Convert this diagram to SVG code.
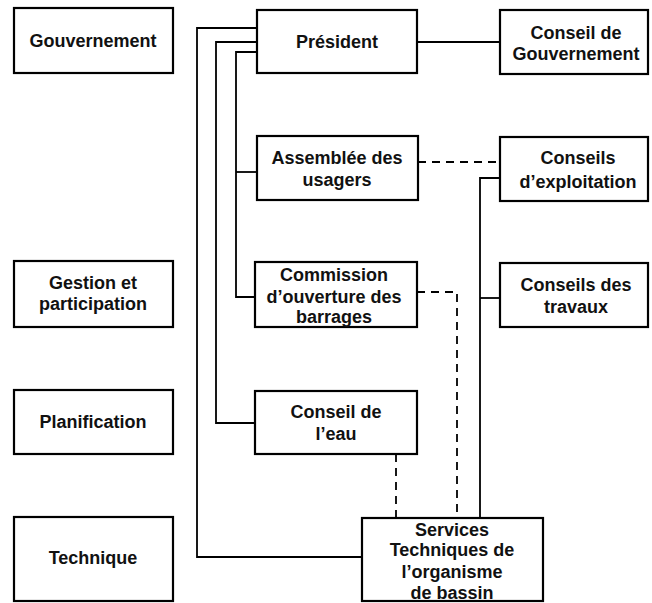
<svg xmlns="http://www.w3.org/2000/svg" width="652" height="603" viewBox="0 0 652 603">
<style>
rect.box{fill:#fff;stroke:#000;stroke-width:2.2}
.t{font-family:"Liberation Sans",Arial,sans-serif;font-weight:bold;font-size:18px;fill:#111;text-anchor:middle}
.c{fill:none;stroke:#000;stroke-width:1.8}
.d{fill:none;stroke:#000;stroke-width:1.8;stroke-dasharray:8 6}
</style>
<rect width="652" height="603" fill="#fff"/>
<g id="connectors">
<path class="c" d="M417,42 H500"/>
<path class="c" d="M257,28 H197 V557 H362"/>
<path class="c" d="M257,42 H216 V423 H255"/>
<path class="c" d="M257,52 H236 V297 H255"/>
<path class="c" d="M236,172 H257"/>
<path class="d" d="M418,162 H500"/>
<path class="d" d="M417,292 H457 V518"/>
<path class="d" d="M396,454 V518"/>
<path class="c" d="M500,178 H480 V518"/>
<path class="c" d="M480,298 H500"/>
</g>
<g id="gouvernement"><rect class="box" x="14" y="8" width="159" height="65"/><text class="t" x="93" y="47">Gouvernement</text></g>
<g id="gestion"><rect class="box" x="14" y="261" width="159" height="66"/><text class="t" x="93" y="289">Gestion et</text><text class="t" x="93" y="310">participation</text></g>
<g id="planification"><rect class="box" x="14" y="390" width="159" height="64"/><text class="t" x="93" y="428">Planification</text></g>
<g id="technique"><rect class="box" x="14" y="517" width="159" height="84"/><text class="t" x="93" y="564">Technique</text></g>
<g id="president"><rect class="box" x="257" y="10" width="160" height="63"/><text class="t" x="337" y="48">Président</text></g>
<g id="conseil-gouvernement"><rect class="box" x="500" y="10" width="148" height="64"/><text class="t" x="576" y="39">Conseil de</text><text class="t" x="576" y="60">Gouvernement</text></g>
<g id="assemblee"><rect class="box" x="257" y="136" width="161" height="64"/><text class="t" x="337" y="164">Assemblée des</text><text class="t" x="337" y="186">usagers</text></g>
<g id="conseils-exploitation"><rect class="box" x="500" y="137" width="148" height="64"/><text class="t" x="578" y="164">Conseils</text><text class="t" x="578" y="188">d’exploitation</text></g>
<g id="conseils-travaux"><rect class="box" x="500" y="263" width="148" height="64"/><text class="t" x="576" y="291">Conseils des</text><text class="t" x="576" y="313">travaux</text></g>
<g id="commission"><rect class="box" x="255" y="262" width="162" height="65"/><text class="t" x="334" y="281">Commission</text><text class="t" x="334" y="303">d’ouverture des</text><text class="t" x="334" y="323">barrages</text></g>
<g id="conseil-eau"><rect class="box" x="255" y="391" width="162" height="63"/><text class="t" x="336" y="418">Conseil de</text><text class="t" x="336" y="440">l’eau</text></g>
<g id="services"><rect class="box" x="362" y="518" width="181" height="83"/><text class="t" x="452" y="536">Services</text><text class="t" x="452" y="556">Techniques de</text><text class="t" x="452" y="578">l’organisme</text><text class="t" x="452" y="599">de bassin</text></g>
</svg>
